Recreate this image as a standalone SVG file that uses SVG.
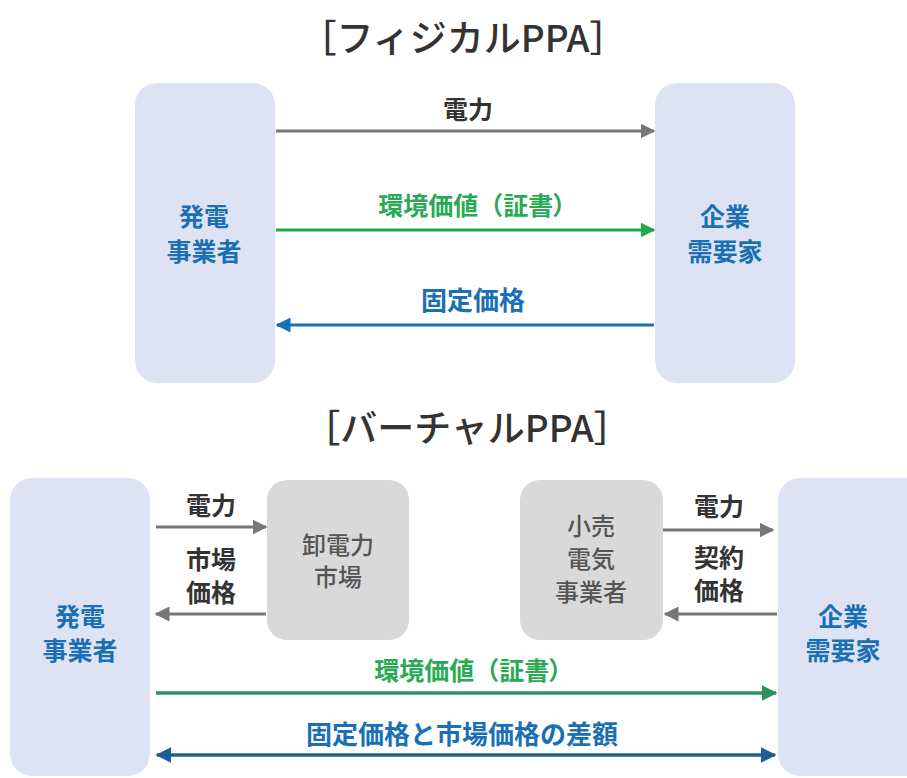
<svg xmlns="http://www.w3.org/2000/svg" width="907" height="778" viewBox="0 0 907 778">
<defs>
<style>
text{font-family:"Noto Sans CJK JP","Noto Sans",sans-serif;text-anchor:middle;dominant-baseline:central}
.title{font-size:37px;fill:#333;font-weight:500}
.party{fill:#dde3f3}
.mid{fill:#d9d9d9}
.ptxt{font-size:25px;font-weight:700;fill:#1a6fb5}
.mtxt{font-size:24px;font-weight:500;fill:#555}
.lbl{font-size:25px;font-weight:700;fill:#333}
.glbl{font-size:25px;font-weight:700;fill:#2aaa55}
.palt{font-feature-settings:"palt"}
.blbl{font-size:26px;font-weight:700;fill:#1a6fb5}
.gray{stroke:#777;stroke-width:3;fill:none}
.green{stroke:#22a84c;stroke-width:3;fill:none}
.green2{stroke:#2e9160;stroke-width:3.5;fill:none}
.blue{stroke:#1a6fb5;stroke-width:3;fill:none}
.blue2{stroke:#1f5f96;stroke-width:3.5;fill:none}
</style>
<marker id="ag" viewBox="0 0 10 10" refX="9" refY="5" markerWidth="5" markerHeight="5" markerUnits="strokeWidth" orient="auto-start-reverse"><path d="M0,0 L10,5 L0,10 z" fill="#777"/></marker>
<marker id="agr" viewBox="0 0 10 10" refX="9" refY="5" markerWidth="5" markerHeight="5" markerUnits="strokeWidth" orient="auto-start-reverse"><path d="M0,0 L10,5 L0,10 z" fill="#22a84c"/></marker>
<marker id="agr2" viewBox="0 0 10 10" refX="9" refY="5" markerWidth="4.5" markerHeight="4.5" markerUnits="strokeWidth" orient="auto-start-reverse"><path d="M0,0 L10,5 L0,10 z" fill="#2e9160"/></marker>
<marker id="ab" viewBox="0 0 10 10" refX="9" refY="5" markerWidth="5" markerHeight="5" markerUnits="strokeWidth" orient="auto-start-reverse"><path d="M0,0 L10,5 L0,10 z" fill="#1a6fb5"/></marker>
<marker id="ab2" viewBox="0 0 10 10" refX="9" refY="5" markerWidth="4.5" markerHeight="4.5" markerUnits="strokeWidth" orient="auto-start-reverse"><path d="M0,0 L10,5 L0,10 z" fill="#1f5f96"/></marker>
</defs>
<rect width="907" height="778" fill="#fff"/>

<text class="title" x="463" y="36">［フィジカルPPA］</text>
<text class="title" x="467" y="426">［バーチャルPPA］</text>

<g id="p-gen">
<rect class="party" x="135" y="83" width="140" height="300" rx="22"/>
<text class="ptxt" x="204" y="215">発電</text>
<text class="ptxt" x="204" y="250">事業者</text>
</g>
<g id="p-cust">
<rect class="party" x="655" y="83" width="140" height="300" rx="22"/>
<text class="ptxt" x="725" y="215">企業</text>
<text class="ptxt" x="725" y="250">需要家</text>
</g>

<g id="v-gen">
<rect class="party" x="10" y="478" width="140" height="298" rx="22"/>
<text class="ptxt" x="80" y="615">発電</text>
<text class="ptxt" x="80" y="649">事業者</text>
</g>
<g id="v-cust">
<rect class="party" x="778" y="478" width="150" height="298" rx="22"/>
<text class="ptxt" x="843" y="615">企業</text>
<text class="ptxt" x="843" y="649">需要家</text>
</g>
<g id="v-market">
<rect class="mid" x="267" y="480" width="142" height="160" rx="20"/>
<text class="mtxt" x="338" y="543">卸電力</text>
<text class="mtxt" x="338" y="575">市場</text>
</g>
<g id="v-retail">
<rect class="mid" x="520" y="480" width="143" height="160" rx="20"/>
<text class="mtxt" x="591" y="524">小売</text>
<text class="mtxt" x="591" y="557">電気</text>
<text class="mtxt" x="591" y="590">事業者</text>
</g>

<g id="connectors">
<line class="gray" x1="276" y1="131" x2="654" y2="131" marker-end="url(#ag)"/>
<text class="lbl" x="468" y="108">電力</text>
<line class="green" x1="276" y1="230" x2="654" y2="230" marker-end="url(#agr)"/>
<text class="glbl" x="472" y="204">環境価値（<tspan class="palt">証書）</tspan></text>
<line class="blue" x1="654" y1="325" x2="277" y2="325" marker-end="url(#ab)"/>
<text class="blbl" x="473" y="298">固定価格</text>

<line class="gray" x1="156" y1="527" x2="266" y2="527" marker-end="url(#ag)"/>
<text class="lbl" x="211" y="504">電力</text>
<text class="lbl" x="211" y="558">市場</text>
<text class="lbl" x="211" y="591">価格</text>
<line class="gray" x1="266" y1="614" x2="156" y2="614" marker-end="url(#ag)"/>

<line class="gray" x1="663" y1="530" x2="773" y2="530" marker-end="url(#ag)"/>
<text class="lbl" x="719" y="505">電力</text>
<text class="lbl" x="719" y="556">契約</text>
<text class="lbl" x="719" y="589">価格</text>
<line class="gray" x1="777" y1="614" x2="665" y2="614" marker-end="url(#ag)"/>

<line class="green2" x1="156" y1="693" x2="776" y2="693" marker-end="url(#agr2)"/>
<text class="glbl" x="468" y="669">環境価値（<tspan class="palt">証書）</tspan></text>
<line class="blue2" x1="157" y1="755" x2="775" y2="755" marker-start="url(#ab2)" marker-end="url(#ab2)"/>
<text class="blbl" x="462" y="732">固定価格と市場価格の差額</text>
</g>
</svg>
